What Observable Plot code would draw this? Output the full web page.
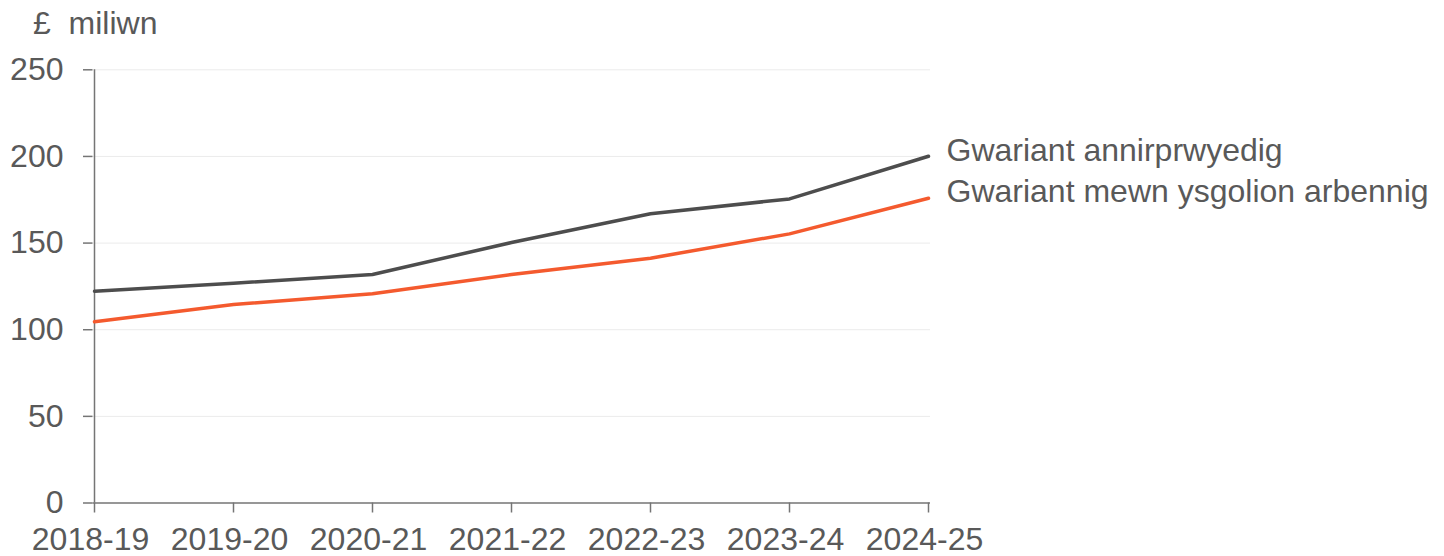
<!DOCTYPE html>
<html>
<head>
<meta charset="utf-8">
<script src="https://cdn.jsdelivr.net/npm/d3@7"></script>
<script src="https://cdn.jsdelivr.net/npm/@observablehq/plot@0.6"></script>
<style>
  html, body { margin: 0; padding: 0; background: #ffffff; }
  #chart svg { display: block; }
</style>
</head>
<body>
<div id="chart"></div>
<script>
const years = ["2018-19", "2019-20", "2020-21", "2021-22", "2022-23", "2023-24", "2024-25"];
const seriesNames = ["Gwariant annirprwyedig", "Gwariant mewn ysgolion arbennig"];
const totalSpend = [122.2, 126.8, 131.9, 150.3, 166.9, 175.5, 200.1];
const specialSchoolSpend = [104.6, 114.5, 120.7, 131.9, 141.3, 155.3, 175.9];
const yTicks = [0, 50, 100, 150, 200, 250];
const yLabel = "£\u00a0\u00a0miliwn";
const colors = ["#4d4d4d", "#f45a2e"];

const rows = [];
years.forEach((y, i) => rows.push({year: y, value: totalSpend[i], series: seriesNames[0]}));
years.forEach((y, i) => rows.push({year: y, value: specialSchoolSpend[i], series: seriesNames[1]}));
const last = rows.filter(d => d.year === years[years.length - 1]);

const font = "'Liberation Sans', Arial, Helvetica, sans-serif";
const textColor = "#595959";

const chart = Plot.plot({
  width: 1444,
  height: 556,
  marginLeft: 92.5,
  marginRight: 514,
  marginTop: 69.3,
  marginBottom: 53.5,
  style: {fontFamily: font, fontSize: "32px", color: textColor, background: "#ffffff"},
  x: {type: "point", domain: years, padding: 0},
  y: {domain: [0, 250]},
  color: {domain: seriesNames, range: colors},
  marks: [
    Plot.ruleY(yTicks.filter(t => t > 0), {stroke: "#ebebeb", strokeWidth: 1}),
    Plot.axisY({ticks: yTicks, tickSize: 9.5, tickPadding: 20, label: null, stroke: "#757575", strokeWidth: 1.5, fill: textColor, fontSize: 32}),
    Plot.axisX({tickSize: 10, text: null, label: null, stroke: "#757575", strokeWidth: 1.5}),
    Plot.axisX({tickSize: 0, tickPadding: 24, label: null, fill: textColor, fontSize: 32, dx: -4}),
    Plot.ruleX([years[0]], {stroke: "#757575", strokeWidth: 1.5}),
    Plot.ruleY([0], {stroke: "#757575", strokeWidth: 1.5}),
    Plot.lineY(rows, {x: "year", y: "value", z: "series", stroke: "series", strokeWidth: 3.5}),
    Plot.text(last, {x: "year", y: "value", text: "series", fill: textColor, textAnchor: "start", dx: 18, dy: -6, fontSize: 32}),
    Plot.text([yLabel], {frameAnchor: "top-left", text: d => d, textAnchor: "start", lineAnchor: "middle", dx: -60, dy: -46, fill: textColor, fontSize: 32})
  ]
});
document.getElementById("chart").appendChild(chart);
</script>
</body>
</html>
